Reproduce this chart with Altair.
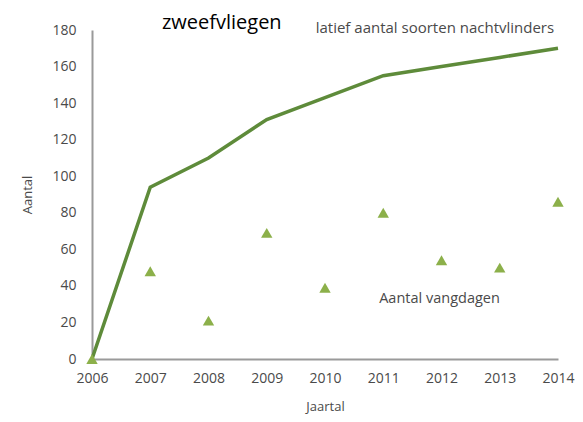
import altair as alt
import pandas as pd

years = [2006, 2007, 2008, 2009, 2010, 2011, 2012, 2013, 2014]
cumulative_species = [0, 94, 110, 131, 143, 155, 160, 165, 170]
catch_days = [0, 48, 21, 69, 39, 80, 54, 50, 86]
y_ticks = [0, 20, 40, 60, 80, 100, 120, 140, 160, 180]

df = pd.DataFrame({"Jaartal": years, "soorten": cumulative_species, "vangdagen": catch_days})

labels = pd.DataFrame({
    "x": [2007.2, 2009.84, 2010.93],
    "y": [184, 181, 33],
    "t": ["zweefvliegen", "latief aantal soorten nachtvlinders", "Aantal vangdagen"],
    "s": [20, 15, 14.5],
    "c": ["#000000", "#4a4a4a", "#4a4a4a"],
})

xscale = alt.Scale(domain=[2006, 2014], nice=False, zero=False)
yscale = alt.Scale(domain=[0, 180], nice=False)

xaxis = alt.Axis(format="d", values=years, grid=False, ticks=False, domainColor="#9a9a9a",
                 domainWidth=2, labelFont="Open Sans", labelFontSize=14, labelColor="#4a4a4a",
                 labelPadding=12, labelFlush=False, labelOverlap=False,
                 title="Jaartal", titleFont="Open Sans", titleFontSize=13,
                 titleFontWeight="normal", titleColor="#4a4a4a", titlePadding=15)
yaxis = alt.Axis(values=y_ticks, grid=False, ticks=False, domainColor="#9a9a9a", domainWidth=2,
                 labelFont="Open Sans", labelFontSize=14, labelColor="#4a4a4a", labelPadding=16,
                 labelFlush=False, labelOverlap=False,
                 title="Aantal", titleFont="Open Sans", titleFontSize=13, titleFontWeight="normal",
                 titleColor="#4a4a4a", titlePadding=17)

line = alt.Chart(df).mark_line(color="#5e8b3a", strokeWidth=3.5).encode(
    x=alt.X("Jaartal:Q", scale=xscale, axis=xaxis),
    y=alt.Y("soorten:Q", scale=yscale, axis=yaxis),
)

pts = alt.Chart(df).mark_point(shape="triangle-up", filled=True, size=130, color="#8cb04a", opacity=1).encode(
    x=alt.X("Jaartal:Q", scale=xscale, axis=xaxis),
    y=alt.Y("vangdagen:Q", scale=yscale, axis=yaxis),
)

txt = alt.Chart(labels).mark_text(align="left", baseline="middle", font="Open Sans").encode(
    x=alt.X("x:Q", scale=xscale, axis=xaxis),
    y=alt.Y("y:Q", scale=yscale, axis=yaxis),
    text="t:N",
    size=alt.Size("s:Q", scale=None, legend=None),
    color=alt.Color("c:N", scale=None, legend=None),
)

chart = (line + pts + txt).properties(
    width=466, height=329,
    autosize=alt.AutoSizeParams(type="none"),
    padding={"left": 84, "top": 22, "right": 17, "bottom": 55},
).configure_view(stroke=None).configure_axis(labelOverlap=False)

chart.save("out.html", embed_options={"renderer": "svg", "actions": False})
